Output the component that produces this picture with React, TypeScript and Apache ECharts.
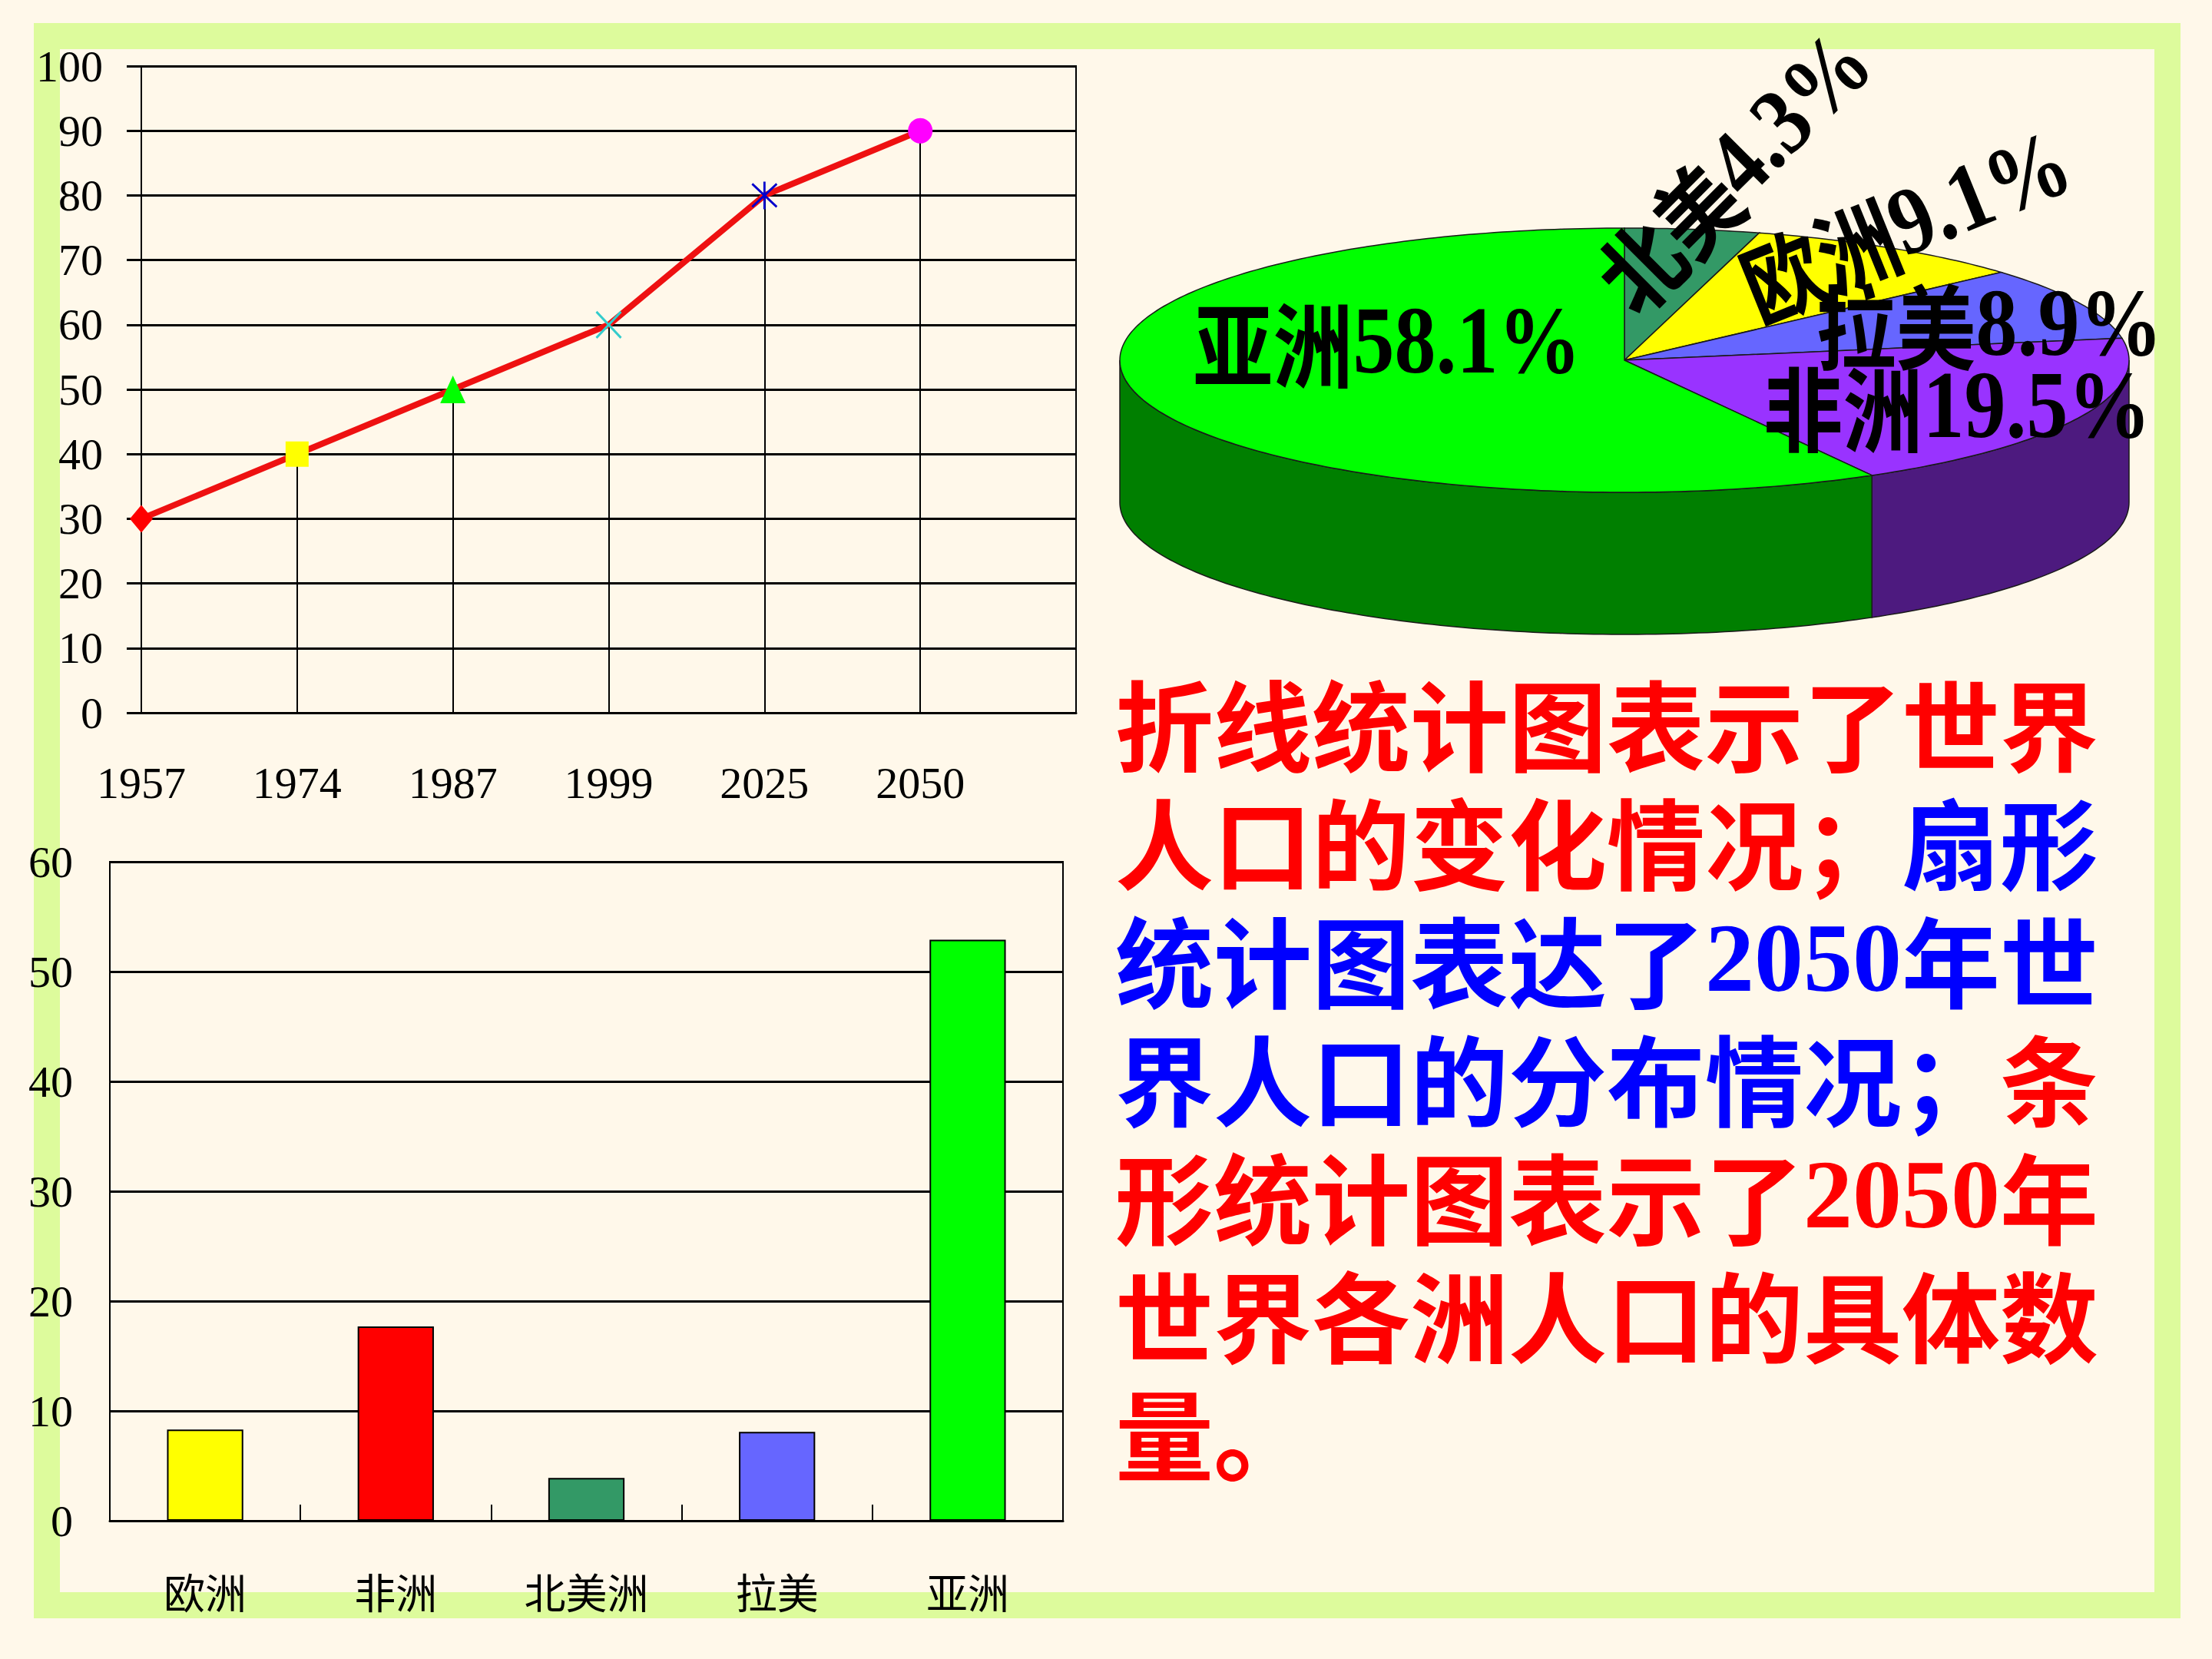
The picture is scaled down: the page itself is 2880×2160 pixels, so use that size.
import React, { useEffect, useRef } from 'react';
import * as echarts from 'echarts';

// ---------- data ----------
const years = ['1957', '1974', '1987', '1999', '2025', '2050'];
const population = [30, 40, 50, 60, 80, 90];

const barCategories = ['欧洲', '非洲', '北美洲', '拉美', '亚洲'];
const barValues = [8.3, 17.7, 3.9, 8.1, 52.9];

const pieNames = ['北美', '欧洲', '拉美', '非洲', '亚洲'];
const pieValues = [4.3, 9.1, 8.9, 19.5, 58.1];

// ---------- styles ----------
const markerSymbols = [
  'diamond',
  'rect',
  'triangle',
  'path://M0,0L10,10M10,0L0,10',
  'path://M0,0L10,10M10,0L0,10M5,-1L5,11',
  'circle',
];
const markerSizes = [[30, 36], [30, 33], [33, 36], [32, 34], [32, 36], [32, 33]];
const markerStyles = [
  { color: '#ff0000' },
  { color: '#ffff00' },
  { color: '#00ff00' },
  { color: 'none', borderColor: '#33cccc', borderWidth: 3 },
  { color: 'none', borderColor: '#0000cc', borderWidth: 3 },
  { color: '#ff00ff' },
];
const barColors = ['#ffff00', '#ff0000', '#339966', '#6666ff', '#00ff00'];
const pieTopColors = ['#339966', '#ffff00', '#6666ff', '#9933ff', '#00ff00'];
const pieSideColors = ['#1a4d33', '#808000', '#333380', '#4d1a7f', '#007f00'];
const pieLabelLayout = [
  { x: 2255, y: 220, rotate: 45 },
  { x: 2480, y: 289, rotate: 22 },
  { x: 2590, y: 420, rotate: 0 },
  { x: 2548, y: 527, rotate: 0 },
  { x: 1806, y: 443, rotate: 0 },
];
const PIE = { cx: 2115, cy: 469, rx: 657, ry: 172, depth: 185 };

const SERIF = '"Liberation Serif", "Times New Roman", serif';
const CJK = '"Noto Sans CJK SC", sans-serif';

const paragraph = [
  '{r|折线统计图表示了世界}',
  '{r|人口的变化情况；}{b|扇形}',
  '{b|统计图表达了}{bd|2050}{b|年世}',
  '{b|界人口的分布情况；}{r|条}',
  '{r|形统计图表示了}{rd|2050}{r|年}',
  '{r|世界各洲人口的具体数}',
  '{r|量。}',
].join('\n');

function ellPt(tDeg: number, dy = 0): number[] {
  const t = (tDeg * Math.PI) / 180;
  return [PIE.cx + PIE.rx * Math.cos(t), PIE.cy - PIE.ry * Math.sin(t) + dy];
}

export default function App() {
  const ref = useRef<HTMLDivElement>(null);

  useEffect(() => {
    if (!ref.current) return;
    const chart = echarts.init(ref.current, undefined, { renderer: 'svg' });
    const total = pieValues.reduce((a, b) => a + b, 0);

    const renderPie = (params: any, api: any) => {
      const i = params.dataIndex;
      const v = api.value(0);
      let cum = 0;
      for (let k = 0; k < i; k++) cum += pieValues[k];
      const t0 = 90 - (cum / total) * 360;
      const t1 = t0 - (v / total) * 360;
      const children: any[] = [];
      // side wall (front half only: -180..0)
      const a = Math.max(t1, -180);
      const b = Math.min(t0, 0);
      if (b > a) {
        const topArc: number[][] = [];
        const botArc: number[][] = [];
        const n = Math.max(2, Math.ceil(b - a));
        for (let s = 0; s <= n; s++) {
          const t = b - ((b - a) * s) / n;
          topArc.push(ellPt(t));
          botArc.push(ellPt(t, PIE.depth));
        }
        children.push({
          type: 'polygon',
          z2: 1,
          shape: { points: topArc.concat(botArc.reverse()) },
          style: { fill: pieSideColors[i], stroke: '#1a1a1a', lineWidth: 1.5 },
        });
      }
      // top face
      const pts: number[][] = [[PIE.cx, PIE.cy]];
      const n = Math.max(2, Math.ceil(t0 - t1));
      for (let s = 0; s <= n; s++) {
        pts.push(ellPt(t0 - ((t0 - t1) * s) / n));
      }
      children.push({
        type: 'polygon',
        z2: 5,
        shape: { points: pts },
        style: { fill: pieTopColors[i], stroke: '#1a1a1a', lineWidth: 1.5 },
      });
      const lay = pieLabelLayout[i];
      children.push({
        type: 'text',
        z2: 20,
        x: lay.x,
        y: lay.y,
        scaleY: 1.15,
        rotation: (lay.rotate * Math.PI) / 180,
        style: {
          text: `{c|${pieNames[i]}}{n|${v.toFixed(1)}%}`,
          align: 'center',
          verticalAlign: 'middle',
          rich: {
            c: { fontFamily: CJK, fontWeight: 'bold', fontSize: 104, fill: '#000' },
            n: { fontFamily: SERIF, fontWeight: 'bold', fontSize: 108, fill: '#000' },
          },
        },
      });
      return { type: 'group', children };
    };

    const lineAxisLabel = { fontFamily: SERIF, fontSize: 58, color: '#000' };

    chart.setOption({
      animation: false,
      backgroundColor: '#fff8ea',
      grid: [
        { left: 184, top: 86, width: 1217, height: 842, show: true, borderColor: '#000', borderWidth: 2, backgroundColor: 'transparent' },
        { left: 143, top: 1122, width: 1241, height: 858, show: true, borderColor: '#000', borderWidth: 2, backgroundColor: 'transparent' },
      ],
      xAxis: [
        {
          type: 'value',
          gridIndex: 0,
          min: 0,
          max: 6,
          interval: 1,
          axisLine: { show: true, onZero: false, lineStyle: { color: '#000', width: 3 } },
          axisTick: { show: false },
          splitLine: { show: false },
          axisLabel: { ...lineAxisLabel, margin: 62, formatter: (val: number) => years[val] ?? '' },
        },
        {
          type: 'category',
          gridIndex: 1,
          data: barCategories,
          axisLine: { show: true, lineStyle: { color: '#000', width: 3 } },
          axisTick: { show: true, inside: true, length: 21, lineStyle: { color: '#000', width: 2 } },
          axisLabel: { fontFamily: CJK, fontSize: 54, color: '#000', margin: 64 },
        },
      ],
      yAxis: [
        {
          type: 'value',
          gridIndex: 0,
          min: 0,
          max: 100,
          interval: 10,
          axisLine: { show: true, lineStyle: { color: '#000', width: 2 } },
          axisTick: { show: true, length: 19, lineStyle: { color: '#000', width: 3 } },
          splitLine: { show: true, lineStyle: { color: '#000', width: 3 } },
          axisLabel: { ...lineAxisLabel, margin: 50 },
        },
        {
          type: 'value',
          gridIndex: 1,
          min: 0,
          max: 60,
          interval: 10,
          axisLine: { show: true, lineStyle: { color: '#000', width: 2 } },
          axisTick: { show: false },
          splitLine: { show: true, lineStyle: { color: '#000', width: 3 } },
          axisLabel: { fontFamily: SERIF, fontSize: 58, color: '#000', margin: 48 },
        },
      ],
      graphic: [
        {
          type: 'rect',
          z: -10,
          silent: true,
          shape: { x: 61, y: 47, width: 2761, height: 2043 },
          style: { fill: 'none', stroke: '#ddfb9c', lineWidth: 34 },
        },
        {
          type: 'text',
          z: 10,
          x: 1452,
          y: 862,
          style: {
            text: paragraph,
            align: 'left',
            verticalAlign: 'top',
            rich: {
              r: { fontFamily: CJK, fontWeight: 'bold', fontSize: 128, lineHeight: 154, fill: '#ff0000' },
              b: { fontFamily: CJK, fontWeight: 'bold', fontSize: 128, lineHeight: 154, fill: '#0000ff' },
              rd: { fontFamily: SERIF, fontWeight: 'bold', fontSize: 128, lineHeight: 154, fill: '#ff0000' },
              bd: { fontFamily: SERIF, fontWeight: 'bold', fontSize: 128, lineHeight: 154, fill: '#0000ff' },
            },
          },
        },
      ],
      series: [
        {
          type: 'line',
          xAxisIndex: 0,
          yAxisIndex: 0,
          z: 5,
          data: years.map((_, i) => ({
            value: [i, population[i]],
            symbol: markerSymbols[i],
            symbolSize: markerSizes[i],
            itemStyle: markerStyles[i],
          })),
          lineStyle: { color: '#ee1111', width: 8 },
          markLine: {
            silent: true,
            symbol: ['none', 'none'],
            label: { show: false },
            lineStyle: { color: '#000', width: 2, type: 'solid' },
            data: population.map((v, i) => [{ coord: [i, 0] }, { coord: [i, v] }]),
          },
        },
        {
          type: 'bar',
          xAxisIndex: 1,
          yAxisIndex: 1,
          barWidth: '40%',
          data: barValues.map((v, i) => ({ value: v, itemStyle: { color: barColors[i] } })),
          itemStyle: { borderColor: '#000', borderWidth: 2 },
        },
        {
          type: 'custom',
          coordinateSystem: 'none',
          data: pieValues.map((v) => [v]),
          renderItem: renderPie,
        },
      ],
    });
    return () => chart.dispose();
  }, []);

  return (
    <div
      ref={ref}
      style={{ position: 'fixed', left: 0, top: 0, width: 2880, height: 2160 }}
    />
  );
}
